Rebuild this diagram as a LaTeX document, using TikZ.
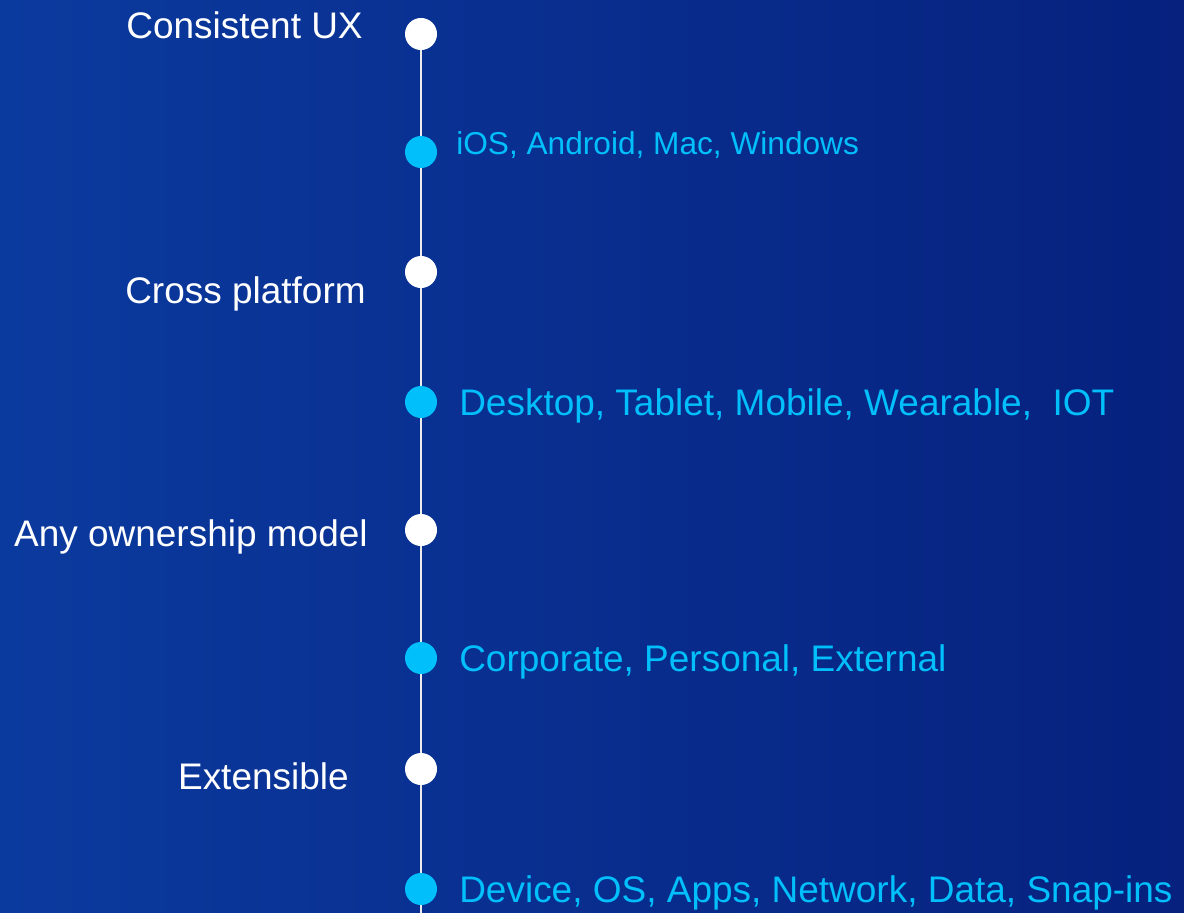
\documentclass[tikz,border=0pt]{standalone}
\usepackage{fontspec}
\setmainfont{Liberation Sans}
\definecolor{bgleft}{RGB}{11,58,158}
\definecolor{bgright}{RGB}{6,33,126}
\definecolor{skyblue}{RGB}{0,191,250}
\tikzset{
  dot/.style={circle, inner sep=0pt, minimum size=0.8cm},
  bigdot/.style={dot, fill=white},
  subdot/.style={dot, fill=skyblue},
  mainlabel/.style={text=white, inner sep=0pt, anchor=base east, font=\fontsize{26.3}{30}\selectfont},
  sublabel/.style={text=skyblue, inner sep=0pt, anchor=base west, font=\fontsize{26.3}{30}\selectfont},
}
\begin{document}
\begin{tikzpicture}[x=0.025cm, y=-0.025cm]
\useasboundingbox (0,0) rectangle (1184,913);
\shade[left color=bgleft, right color=bgright] (0,0) rectangle (1184,913);

% timeline points
\node [dot] (0) at (421, 34) {};
\node [dot] (1) at (421, 152) {};
\node [dot] (2) at (421, 272) {};
\node [dot] (3) at (421, 402) {};
\node [dot] (4) at (421, 530) {};
\node [dot] (5) at (421, 658) {};
\node [dot] (6) at (421, 769) {};
\node [dot] (7) at (421, 889) {};
\coordinate (8) at (421, 913);

\draw [white!85!gray, line width=1.3pt] (0.center) -- (8);
\foreach \n/\s in {0/bigdot,1/subdot,2/bigdot,3/subdot,4/bigdot,5/subdot,6/bigdot,7/subdot}
  \node [\s] at (\n) {};

% labels
\node [mainlabel] (a) at (363, 39) {Consistent UX};
\node [mainlabel] (b) at (366, 303) {Cross platform};
\node [mainlabel] (c) at (368, 546) {Any ownership model};
\node [mainlabel] (d) at (349, 789) {Extensible};

\node [sublabel, font=\fontsize{22.5}{26}\selectfont] (e) at (456, 154) {iOS, Android, Mac, Windows};
\node [sublabel] (f) at (459, 415) {Desktop, Tablet, Mobile, Wearable,~~IOT};
\node [sublabel] (g) at (459, 671) {Corporate, Personal, External};
\node [sublabel] (h) at (459, 902) {Device, OS, Apps, Network, Data, Snap-ins};
\end{tikzpicture}
\end{document}
